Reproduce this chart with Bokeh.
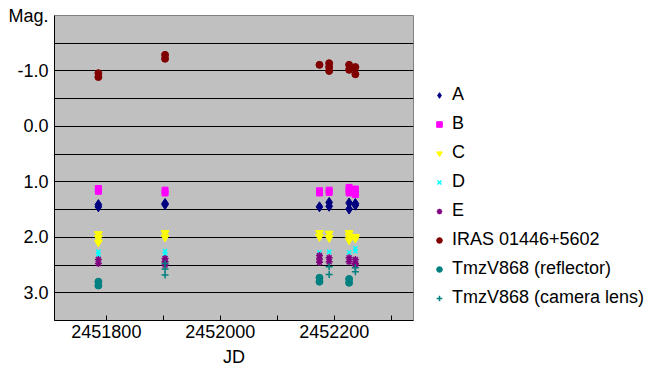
from bokeh.plotting import figure
from bokeh.models import Range1d, FixedTicker, Legend, LegendItem
from bokeh.embed import file_html
from bokeh.resources import INLINE

# ---- data ----
d1, d2, d3, d4, d5, d6 = 2451786, 2451903, 2452174, 2452191, 2452226, 2452237

a_jd = [d1, d1, d2, d2, d3, d4, d4, d5, d5, d6, d6]
a_mag = [1.41, 1.45, 1.39, 1.41, 1.45, 1.37, 1.44, 1.38, 1.49, 1.39, 1.42]

b_jd = [d1, d1, d2, d2, d3, d3, d4, d4, d5, d5, d5, d6, d6]
b_mag = [1.12, 1.17, 1.15, 1.20, 1.16, 1.20, 1.15, 1.19, 1.10, 1.15, 1.20, 1.13, 1.23]

c_jd = [d1, d1, d1, d2, d2, d3, d3, d4, d4, d5, d5, d5, d6, d6]
c_mag = [1.94, 2.01, 2.09, 1.92, 2.00, 1.92, 1.99, 1.93, 2.01, 1.92, 1.98, 2.05, 1.99, 2.02]

d_jd = [d1, d1, d2, d2, d3, d4, d5, d6, d6]
d_mag = [2.26, 2.31, 2.25, 2.30, 2.27, 2.26, 2.27, 2.20, 2.25]

e_jd = [d1, d1, d2, d2, d2, d3, d3, d3, d4, d4, d5, d5, d6, d6, d6]
e_mag = [2.40, 2.47, 2.38, 2.44, 2.50, 2.33, 2.39, 2.45, 2.37, 2.44, 2.37, 2.44, 2.40, 2.47, 2.50]

iras_jd = [d1, d1, d2, d2, d3, d4, d4, d4, d5, d5, d6, d6]
iras_mag = [-0.96, -0.89, -1.29, -1.22, -1.11, -1.14, -1.07, -1.00, -1.11, -1.02, -1.07, -0.94]

refl_jd = [d1, d1, d3, d3, d5, d5]
refl_mag = [2.80, 2.87, 2.73, 2.80, 2.75, 2.82]

cam_jd = [d2, d2, d2, d4, d4, d6, d6]
cam_mag = [2.47, 2.57, 2.68, 2.53, 2.67, 2.55, 2.62]

x_ticks = [2451800, 2452000, 2452200]
x_labels = ["2451800", "2452000", "2452200"]
x_minor = [2451900, 2452100, 2452300]
y_ticks = [-2, -1, 0, 1, 2, 3]
y_labels = ["Mag.", "-1.0", "0.0", "1.0", "2.0", "3.0"]
y_grid = [-1.5, -1.0, -0.5, 0.0, 0.5, 1.0, 1.5, 2.0, 2.5, 3.0]

FONT = "Liberation Sans"

p = figure(frame_width=359, frame_height=305,
           min_border_left=54, min_border_top=15, min_border_bottom=50, min_border_right=239,
           x_range=Range1d(2451709, 2452339), y_range=Range1d(3.5, -2.0),
           output_backend="svg", toolbar_location=None, tools="")

p.background_fill_color = "#C0C0C0"
p.border_fill_color = "white"
p.outline_line_color = "#808080"

p.xgrid.visible = False
p.ygrid.ticker = FixedTicker(ticks=y_grid)
p.ygrid.grid_line_color = "black"
p.ygrid.grid_line_width = 1

# x axis
xa = p.xaxis[0]
xa.ticker = FixedTicker(ticks=x_ticks, minor_ticks=x_minor)
xa.major_label_overrides = {t: s for t, s in zip(x_ticks, x_labels)}
xa.axis_label = "JD"
xa.axis_label_text_font = FONT
xa.axis_label_text_font_size = "18px"
xa.axis_label_text_font_style = "normal"
xa.axis_label_text_color = "black"
xa.axis_label_standoff = 6
xa.major_label_text_font = FONT
xa.major_label_text_font_size = "18px"
xa.major_label_text_color = "black"
xa.major_label_standoff = 4
xa.major_tick_in = 5
xa.major_tick_out = 0
xa.minor_tick_in = 5
xa.minor_tick_out = 0
xa.axis_line_color = "black"
xa.major_tick_line_color = "black"
xa.minor_tick_line_color = "black"

# y axis
ya = p.yaxis[0]
ya.ticker = FixedTicker(ticks=y_ticks)
ya.major_label_overrides = {t: s for t, s in zip(y_ticks, y_labels)}
ya.major_label_text_font = FONT
ya.major_label_text_font_size = "18px"
ya.major_label_text_color = "black"
ya.major_label_standoff = 6
ya.major_tick_in = 0
ya.major_tick_out = 0
ya.minor_tick_line_color = None
ya.axis_line_color = "black"

r_a = p.scatter(a_jd, a_mag, marker="diamond", size=10, color="#000080")
r_b = p.scatter(b_jd, b_mag, marker="square", size=6, color="#FF00FF")
r_c = p.scatter(c_jd, c_mag, marker="inverted_triangle", size=8, color="#FFFF00")
r_d = p.scatter(d_jd, d_mag, marker="x", size=6, line_color="#00FFFF", line_width=1.5)
r_e = p.scatter(e_jd, e_mag, marker="asterisk", size=7, line_color="#800080", line_width=1.5)
r_i = p.scatter(iras_jd, iras_mag, marker="circle", size=7, color="#800000")
r_r = p.scatter(refl_jd, refl_mag, marker="circle", size=7, color="#008080")
r_k = p.scatter(cam_jd, cam_mag, marker="cross", size=7, line_color="#008080", line_width=1.5)

legend = Legend(items=[
    LegendItem(label="A", renderers=[r_a]),
    LegendItem(label="B", renderers=[r_b]),
    LegendItem(label="C", renderers=[r_c]),
    LegendItem(label="D", renderers=[r_d]),
    LegendItem(label="E", renderers=[r_e]),
    LegendItem(label="IRAS 01446+5602", renderers=[r_i]),
    LegendItem(label="TmzV868 (reflector)", renderers=[r_r]),
    LegendItem(label="TmzV868 (camera lens)", renderers=[r_k]),
], location=(19, 12))
legend.label_text_font = FONT
legend.label_text_font_size = "18px"
legend.label_text_color = "black"
legend.glyph_width = 14
legend.glyph_height = 14
legend.label_height = 20
legend.spacing = 8
legend.padding = 0
legend.margin = 0
legend.label_standoff = 6
legend.border_line_color = None
legend.background_fill_alpha = 0
p.add_layout(legend, "right")

open("out.html", "w").write(file_html(p, INLINE))
